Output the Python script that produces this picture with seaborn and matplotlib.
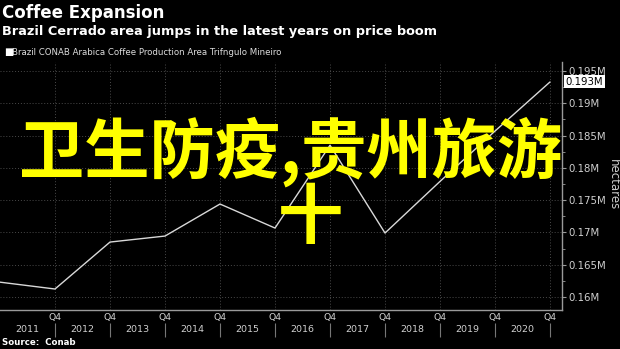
import numpy as np
import pandas as pd
import matplotlib
matplotlib.use("Agg")
import matplotlib.pyplot as plt
from matplotlib.ticker import FixedLocator, FuncFormatter, MultipleLocator
import seaborn as sns

# ---- data ----
years = [2010, 2011, 2012, 2013, 2014, 2015, 2016, 2017, 2018, 2019, 2020]
area_hectares = [162300, 161240, 168510, 169440, 174400, 170680,
                 183500, 169910, 177900, 185700, 193300]
quarter_label = "Q4"
year_labels = ["2011", "2012", "2013", "2014", "2015",
               "2016", "2017", "2018", "2019", "2020"]
y_ticks = [160000, 165000, 170000, 175000, 180000, 185000, 190000, 195000]

title = "Coffee Expansion"
subtitle = "Brazil Cerrado area jumps in the latest years on price boom"
legend_label = "Brazil CONAB Arabica Coffee Production Area Trifngulo Mineiro"
source = "Source:  Conab"
y_label = "hectares"
overlay_line1 = "卫生防疫,贵州旅游"
overlay_line2 = "十"

sns.set_theme(style="dark")
plt.rcParams['font.family'] = ['DejaVu Sans']

W, H = 620, 349
fig = plt.figure(figsize=(6.2, 3.49), dpi=100, facecolor='black')
ax = fig.add_axes([0, (H - 310) / H, 562 / W, (310 - 62) / H])
ax.set_facecolor('black')

df = pd.DataFrame({'year': years, 'area': area_hectares})
sns.lineplot(data=df, x='year', y='area', ax=ax, color='#d9d9d9', linewidth=1.0)

ax.set_xlim(2010, 2020.218)
ax.set_ylim(157990, 196390)

# spines
for s in ['top', 'left']:
    ax.spines[s].set_visible(False)
for s in ['bottom', 'right']:
    ax.spines[s].set_visible(True)
    ax.spines[s].set_color('#9a9a9a')
    ax.spines[s].set_linewidth(1.0)

# y axis on the right
ax.yaxis.tick_right()
ax.yaxis.set_major_locator(FixedLocator(y_ticks))
ax.yaxis.set_minor_locator(MultipleLocator(2500))
ax.yaxis.set_major_formatter(FuncFormatter(lambda v, _: f"{v / 1e6:g}M"))
ax.tick_params(axis='y', which='major', length=3, width=0.8, color='#9a9a9a',
               labelcolor='#d0d0d0', labelsize=7.3, pad=1.5, left=False, right=True)
ax.tick_params(axis='y', which='minor', length=2, width=0.6, color='#9a9a9a',
               left=False, right=True)
ax.set_ylabel(y_label, rotation=270, color='#cccccc', fontsize=8.5)
ax.yaxis.set_label_position('right')
ax.yaxis.set_label_coords(613 / 562, (310 - 185) / (310 - 62))
ax.yaxis.label.set_va('center')
ax.yaxis.label.set_ha('center')

# x axis: Q4 labels
q_ticks = years[1:]
ax.set_xticks(q_ticks, [quarter_label] * len(q_ticks))
ax.set_xlabel('')
ax.tick_params(axis='x', which='major', length=0, labelcolor='#d0d0d0',
               labelsize=6.7, pad=2)

# grid
ax.grid(True, which='major', color='#4a4a4a', linestyle=(0, (1, 2)), linewidth=0.7)
ax.grid(False, which='minor')

# secondary axis for year separators and year labels
sec = ax.secondary_xaxis(-(323 - 310) / (310 - 62))
for s in sec.spines.values():
    s.set_visible(False)
sec.set_xticks(q_ticks, [''] * len(q_ticks))
sec.set_xticks([y - 0.5 for y in q_ticks], year_labels, minor=True)
sec.tick_params(axis='x', which='major', direction='out', length=10, width=0.8,
                color='#777777')
sec.tick_params(axis='x', which='minor', length=0, labelcolor='#d0d0d0',
                labelsize=6.8, pad=1.5)

# last value label
ax.annotate(f"{area_hectares[-1] / 1e6:.3f}M", xy=(1, area_hectares[-1]),
            xycoords=ax.get_yaxis_transform(), xytext=(2.5, 0),
            textcoords='offset points', ha='left', va='center',
            fontsize=7.3, color='black', annotation_clip=False,
            bbox=dict(boxstyle='square,pad=0.15', fc='white', ec='none'))

# header texts
fig.text(2 / W, 1 - 18.5 / H, title, fontsize=12, weight='bold',
         color='white', va='baseline', ha='left')
fig.text(2 / W, 1 - 34.5 / H, subtitle, fontsize=9.3, weight='bold',
         color='white', va='baseline', ha='left')
fig.text(4 / W, 1 - 55.5 / H, "\u25A0", fontsize=7, color='white',
         va='baseline', ha='left')
fig.text(12 / W, 1 - 55 / H, legend_label, fontsize=6.2, color='#dddddd',
         va='baseline', ha='left')
fig.text(2 / W, 1 - 345 / H, source, fontsize=6.2, weight='bold',
         color='white', va='baseline', ha='left')

# overlay text
cjk = ['Noto Sans CJK SC', 'DejaVu Sans']
fig.text(291 / W, 1 - 152 / H, overlay_line1, fontsize=47, weight='bold',
         color='#ffff00', family=cjk, ha='center', va='center', zorder=10)
fig.text(310 / W, 1 - 219 / H, overlay_line2, fontsize=47, weight='bold',
         color='#ffff00', family=cjk, ha='center', va='center', zorder=10)

fig.savefig('out.png', dpi=100, facecolor='black')
